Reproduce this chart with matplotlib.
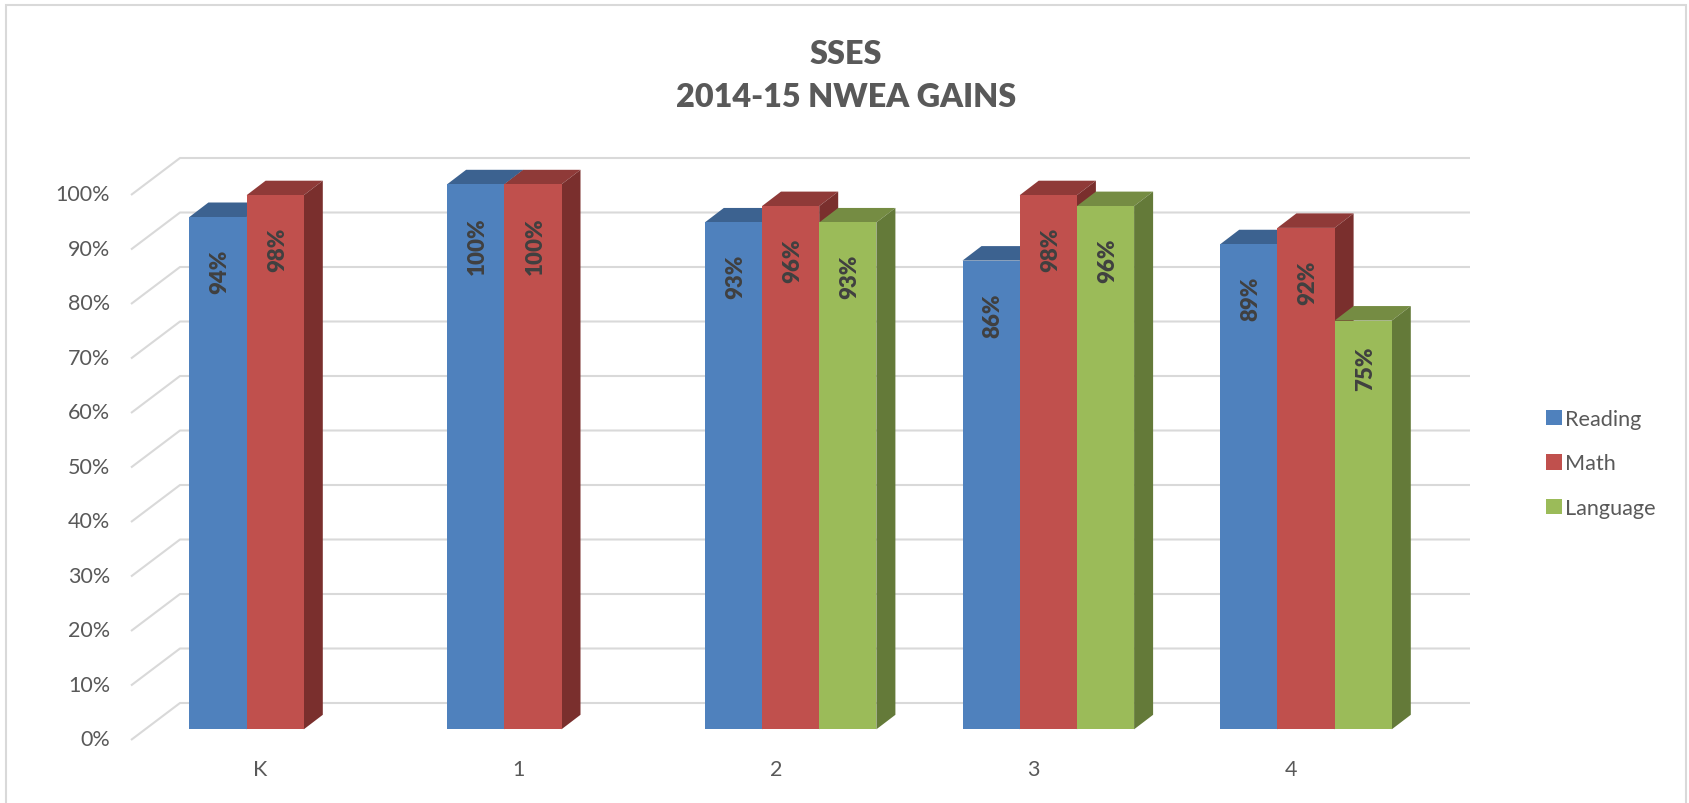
import numpy as np
import matplotlib
matplotlib.use('Agg')
import matplotlib.pyplot as plt
from matplotlib.lines import Line2D
from matplotlib.patches import Polygon
from matplotlib.transforms import ScaledTranslation

plt.rcParams['font.family'] = ['Lato', 'DejaVu Sans']

categories = ['K', '1', '2', '3', '4']
reading = [94, 100, 93, 86, 89]
math_vals = [98, 100, 96, 98, 92]
language = [np.nan, np.nan, 93, 96, 75]
ticks = np.arange(0, 101, 10)

series = [
    ('Reading', reading, '#4F81BD', '#3C6290', '#355A85'),
    ('Math', math_vals, '#C0504D', '#8F3A38', '#7A2F2D'),
    ('Language', language, '#9BBB59', '#758C43', '#647A39'),
]

W, H = 1690, 804
# axes box in pixels, one x unit is the category spacing
left, right, top, bottom = 131, 1470, 140, 741
base_px = 730.3
px_x = 257.7
px_y = 5.45
x0 = (left - 275.2) / px_x
x1 = (right - 275.2) / px_x
floor = -(bottom - base_px) / px_y
ytop = floor + (bottom - top) / px_y

# oblique offsets
bar_w = 57.2 / px_x
bar_dx = 19 / px_x
bar_dy = 14.5 / px_y
wall_dx = 49 / px_x
wall_dy = 37 / px_y

fig = plt.figure(figsize=(W / 100, H / 100), dpi=100, facecolor='white')
# chart border, open at the bottom
bx0, bx1, by0 = 6 / W, 1686 / W, 1 - 6 / H
fig.add_artist(Line2D([bx0, bx0, bx1, bx1], [0, by0, by0, 0], transform=fig.transFigure,
                      color='#D9D9D9', lw=1.5, solid_joinstyle='miter'))
ax = fig.add_axes([left / W, (H - bottom) / H, (right - left) / W, (bottom - top) / H])
ax.set_xlim(x0, x1)
ax.set_ylim(floor, ytop)
for s in ax.spines.values():
    s.set_visible(False)

# walls
for v in ticks:
    ax.plot([x0, x0 + wall_dx, x1], [v + floor, v + floor + wall_dy, v + floor + wall_dy],
            color='#D9D9D9', lw=1.5, zorder=1, clip_on=False, solid_capstyle='butt')

handles = []
for j, (name, vals, col, col_top, col_side) in enumerate(series):
    xs = np.arange(len(categories)) - 1.5 * bar_w + (j + 0.5) * bar_w
    z = 3 + j
    h = ax.bar(xs, vals, width=bar_w, color=col, label=name, zorder=z + 0.5)
    handles.append(h)
    for x, v in zip(xs, vals):
        if np.isnan(v):
            continue
        l, r = x - bar_w / 2, x + bar_w / 2
        ax.add_patch(Polygon([(l, v), (r, v), (r + bar_dx, v + bar_dy), (l + bar_dx, v + bar_dy)],
                             closed=True, facecolor=col_top, edgecolor='none', zorder=z))
        ax.add_patch(Polygon([(r, 0), (r + bar_dx, bar_dy), (r + bar_dx, v + bar_dy), (r, v)],
                             closed=True, facecolor=col_side, edgecolor='none', zorder=z))
        # the short bar has its label closer to the top
        gap = 4.5 if v < 80 else 5.8
        ax.text(x + 0.008, v - gap, '%d%%' % v, rotation=90, ha='center', va='top',
                fontsize=16, fontweight='heavy', color='#404040', zorder=10)

ax.set_xticks(np.arange(len(categories)) - 0.057)
ax.set_xticklabels(categories)
ax.set_yticks(ticks + floor)
ax.set_yticklabels(['%d%%' % v for v in ticks])
ax.tick_params(axis='both', length=0, labelsize=15.5, labelcolor='#595959')
ax.tick_params(axis='x', pad=14)
ax.tick_params(axis='y', pad=15)
# labels sit a little above the front end of the wall lines
nudge = ScaledTranslation(0, 2.0 / 72, fig.dpi_scale_trans)
for t in ax.get_yticklabels():
    t.set_transform(t.get_transform() + nudge)

fig.text(846 / W, 1 - 54 / H, 'SSES', ha='center', va='center',
         fontsize=23.3, fontweight='heavy', color='#595959')
fig.text(846 / W, 1 - 98 / H, '2014-15 NWEA GAINS', ha='center', va='center',
         fontsize=23.3, fontweight='heavy', color='#595959')

fig.legend(handles=handles, loc='center left', bbox_to_anchor=(1546 / W, 1 - 464.5 / H),
           frameon=False, fontsize=15.6, labelcolor='#595959', handlelength=0.72,
           handleheight=0.72, handletextpad=0.15, labelspacing=1.13, borderpad=0, borderaxespad=0)

fig.savefig('out.png', dpi=100)
